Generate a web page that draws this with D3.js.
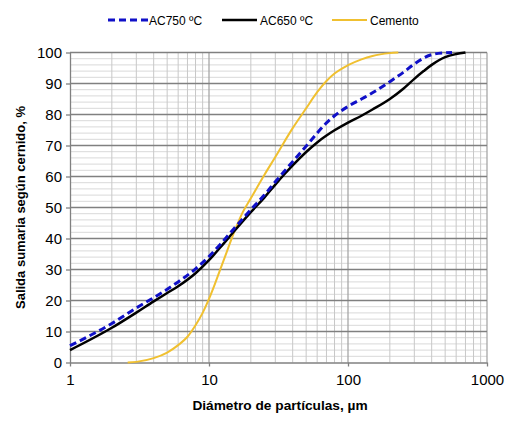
<!DOCTYPE html>
<html><head><meta charset="utf-8">
<script src="https://cdn.jsdelivr.net/npm/d3@7"></script>
<style>body{margin:0;background:#fff}svg{display:block;font-family:Arial,"Liberation Sans",sans-serif}</style>
</head><body><svg id="c" width="527" height="426"></svg>
<script>
const ac650Diam = [1,2,3,4,5,6,8,10,12,15,20,25,30,35,40,50,60,70,80,100,125,150,200,250,300,350,400,500,600,700];
const ac650 = [4.0,11.2,16.1,19.7,22.4,24.6,28.8,33.0,37.0,42.1,48.5,53.2,57.4,60.8,63.6,67.9,71.0,73.2,74.9,77.4,79.6,81.6,85.0,88.3,91.5,94.0,96.0,98.5,99.5,100];
const ac750Diam = [1,2,3,4,5,6,8,10,12,15,20,25,30,35,40,50,60,70,80,100,125,150,200,250,300,350,400,500,560];
const ac750 = [5.4,12.6,17.6,20.9,23.6,26.0,30.2,34.2,38.0,43.0,49.3,54.0,58.3,61.8,64.8,69.8,74.0,77.3,79.6,82.6,85.0,87.0,90.6,93.6,96.3,98.2,99.3,99.9,100];
const cemDiam = [2.6,3,4,5,6,7,8,9,10,11,12,13,15,17.5,20,25,30,40,50,60,70,80,100,125,150,200,230];
const cemento = [0,0.2,1.4,3.2,5.6,8.3,12.0,16.0,20.5,25.2,29.8,34.0,41.5,48.5,53.0,60.5,66.3,75.6,82.0,87.2,90.8,93.2,95.9,97.8,98.9,99.8,100];
const xTicks = [1,10,100,1000];
const yTicks = [0,10,20,30,40,50,60,70,80,90,100];
const series = [
  {name:"AC750 ºC", x:ac750Diam, y:ac750, color:"#1010c8", width:3, dash:"7,4"},
  {name:"AC650 ºC", x:ac650Diam, y:ac650, color:"#000000", width:2.5, dash:null},
  {name:"Cemento", x:cemDiam, y:cemento, color:"#f0c030", width:2, dash:null}
];

const svg = d3.select("#c");
const L=70, R=487, T=52.5, B=362.5;
const x = d3.scaleLog().domain([1,1000]).range([L,R]);
const y = d3.scaleLinear().domain([0,100]).range([B,T]);

const g = svg.append("g");
d3.range(0,101,2).forEach(v=>{ if(v%10) g.append("line").attr("x1",L).attr("x2",R).attr("y1",y(v)).attr("y2",y(v)).attr("stroke","#d9d9d9").attr("stroke-width",1);});
[1,10,100].forEach(dec=>{ for(let k=2;k<10;k++){ const xv=x(dec*k); g.append("line").attr("x1",xv).attr("x2",xv).attr("y1",T).attr("y2",B).attr("stroke","#c8c8c8").attr("stroke-width",1);} });
xTicks.slice(1).forEach(v=>g.append("line").attr("x1",x(v)).attr("x2",x(v)).attr("y1",T).attr("y2",B).attr("stroke","#a0a0a0").attr("stroke-width",1.2));
yTicks.slice(1).forEach(v=>g.append("line").attr("x1",L).attr("x2",R).attr("y1",y(v)).attr("y2",y(v)).attr("stroke","#808080").attr("stroke-width",1.3));

const xa = svg.append("g").attr("transform",`translate(0,${B})`).call(d3.axisBottom(x).tickValues(xTicks).tickFormat(d3.format("d")).tickSize(4).tickSizeOuter(0));
const ya = svg.append("g").attr("transform",`translate(${L},0)`).call(d3.axisLeft(y).tickValues(yTicks).tickSize(4).tickSizeOuter(0));
[xa,ya].forEach(a=>{a.selectAll("path,line").attr("stroke","#808080").attr("stroke-width",1.3);a.selectAll("text").attr("font-size",15).attr("fill","#000").attr("font-family","Arial, 'Liberation Sans', sans-serif");});
xa.selectAll("text").attr("dy","1.05em");
ya.selectAll("text").attr("x",-8);

series.slice().reverse().forEach(s=>{
  const pts = s.x.map((d,i)=>[d,s.y[i]]);
  svg.append("path").datum(pts).attr("fill","none").attr("stroke",s.color).attr("stroke-width",s.width)
    .attr("stroke-dasharray",s.dash).attr("stroke-linejoin","round")
    .attr("d",d3.line().x(d=>x(d[0])).y(d=>y(d[1])).curve(d3.curveMonotoneX));
});

const legX = [108,222,332];
series.forEach((s,i)=>{
  const lg = svg.append("g").attr("transform",`translate(${legX[i]},20)`);
  lg.append("line").attr("x1",0).attr("x2",i===0?40:35).attr("y1",0).attr("y2",0).attr("stroke",s.color).attr("stroke-width",s.width).attr("stroke-dasharray",s.dash);
  lg.append("text").attr("x",i===0?41:38).attr("y",4.5).attr("font-size",12).text(s.name);
});

svg.append("text").attr("x",280).attr("y",410).attr("text-anchor","middle").attr("font-size",13.7).attr("font-weight","bold").text("Diámetro de partículas, µm");
svg.append("text").attr("transform",`translate(25,${(T+B)/2}) rotate(-90)`).attr("text-anchor","middle").attr("font-size",13).attr("font-weight","bold").text("Salida sumaria según cernido, %");
</script></body></html>
